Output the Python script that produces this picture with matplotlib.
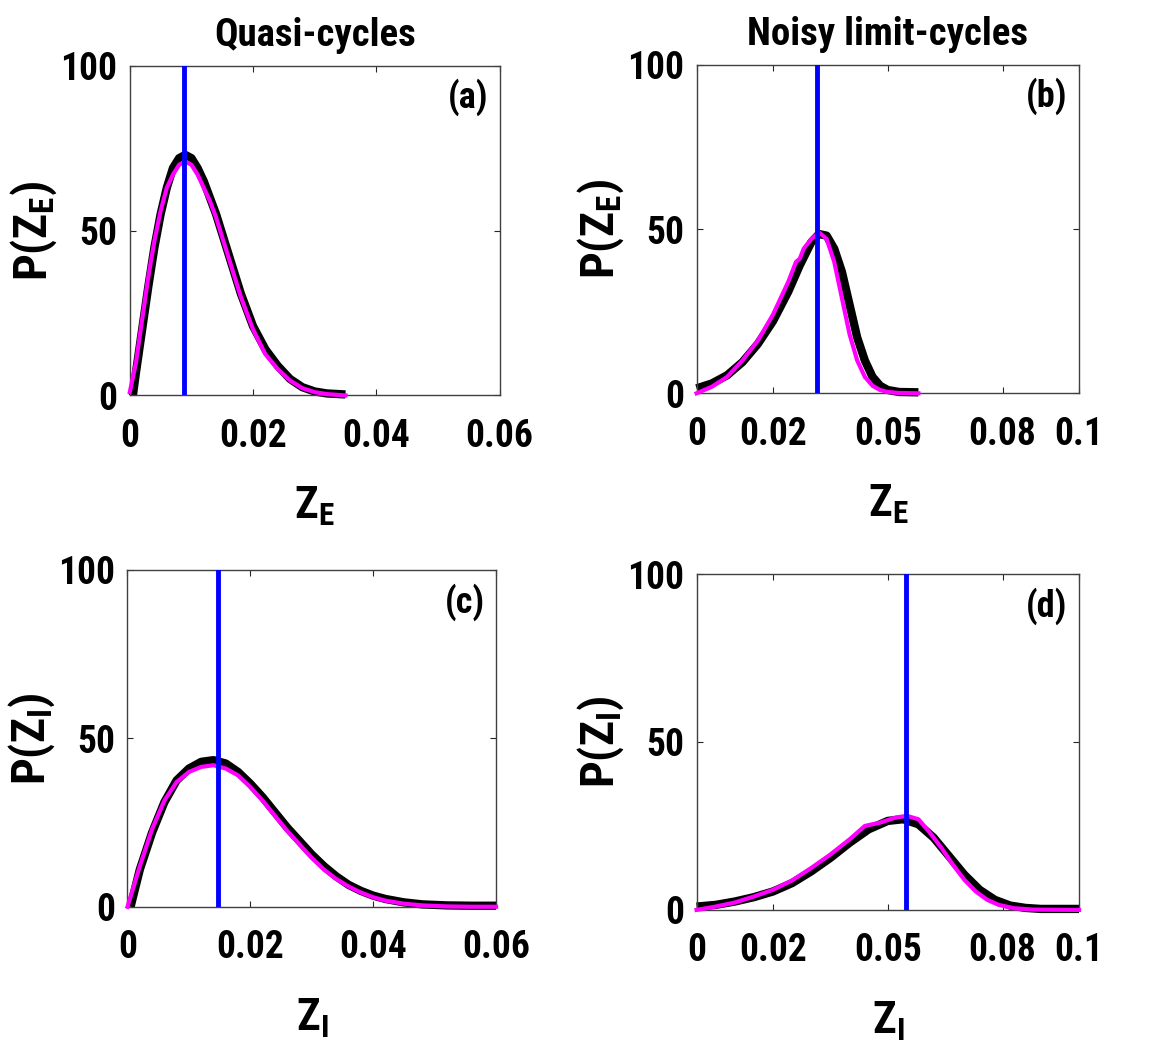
import numpy as np
import matplotlib
matplotlib.use("Agg")
import matplotlib.pyplot as plt
from matplotlib import font_manager as fm

# pick the first condensed bold family that is actually installed
main_font = 'Liberation Sans'
for cand in ['Roboto Condensed', 'Archivo Narrow', 'PT Sans Narrow', 'Asap Condensed']:
    try:
        fm.findfont(fm.FontProperties(family=cand, weight='bold'), fallback_to_default=False)
        main_font = cand
        break
    except ValueError:
        pass

plt.rcParams['font.family'] = [main_font, 'DejaVu Sans']
plt.rcParams['font.weight'] = 'bold'
plt.rcParams['mathtext.fontset'] = 'custom'
plt.rcParams['mathtext.rm'] = main_font + ':bold'
plt.rcParams['mathtext.it'] = main_font + ':bold'
plt.rcParams['mathtext.bf'] = main_font + ':bold'

# (a) quasi-cycles, Z_E
xa_theory = [0.0005, 0.001, 0.002, 0.003, 0.004, 0.005, 0.006, 0.007, 0.008, 0.009, 0.010, 0.011, 0.012, 0.013,
             0.014, 0.015, 0.016, 0.017, 0.018, 0.019, 0.020, 0.022, 0.024, 0.026, 0.028, 0.030, 0.032, 0.035]
ya_theory = [0, 7, 20, 33, 45, 55, 63, 69, 72, 73, 72, 69, 65, 60,
             55, 49, 43, 37, 31, 26, 21, 14, 9, 5, 2.5, 1.2, 0.6, 0.3]
xa_sim = [0, 0.001, 0.002, 0.003, 0.004, 0.005, 0.006, 0.007, 0.008, 0.009, 0.010, 0.011, 0.012, 0.013,
          0.014, 0.015, 0.016, 0.017, 0.018, 0.019, 0.020, 0.022, 0.024, 0.026, 0.028, 0.030, 0.032, 0.035]
ya_sim = [1, 10, 23, 36, 47, 56, 63, 67, 70, 71, 70, 67, 63, 59,
          54, 48, 42, 36, 30, 25, 20, 12.5, 8, 4.5, 2.2, 1, 0.4, 0]
peak_a = 0.0088

# (b) noisy limit-cycles, Z_E
xb_theory = [0, 0.004, 0.008, 0.012, 0.016, 0.020, 0.024, 0.027, 0.030, 0.032, 0.034, 0.036, 0.038, 0.040,
             0.042, 0.044, 0.046, 0.048, 0.050, 0.053, 0.058]
yb_theory = [1.5, 3, 5.5, 9.5, 15, 22, 31, 39, 46, 48.5, 48, 44, 37, 27,
             17, 10, 5, 2.3, 1, 0.4, 0.3]
xb_sim = [0, 0.004, 0.008, 0.012, 0.016, 0.020, 0.024, 0.026, 0.027, 0.028, 0.030, 0.032, 0.034, 0.036,
          0.038, 0.040, 0.042, 0.044, 0.046, 0.048, 0.050, 0.053, 0.058]
yb_sim = [0, 2, 5, 10, 16, 24, 34, 40, 41, 44, 47, 49, 47, 40,
          29, 18, 10, 5, 2.3, 1, 0.4, 0.1, 0]
peak_b = 0.0315

# (c) quasi-cycles, Z_I
xc_theory = [0.0005, 0.002, 0.004, 0.006, 0.008, 0.010, 0.012, 0.014, 0.016, 0.018, 0.020, 0.022, 0.024,
             0.026, 0.028, 0.030, 0.032, 0.034, 0.036, 0.038, 0.040, 0.042, 0.045, 0.048, 0.052, 0.056, 0.060]
yc_theory = [0, 11, 22, 31, 37.5, 41, 43, 43.5, 42.5, 40, 36.5, 32.5, 28,
             23.5, 19.5, 15.5, 12, 9, 6.5, 4.7, 3.3, 2.3, 1.3, 0.7, 0.4, 0.3, 0.3]
xc_sim = [0, 0.002, 0.004, 0.006, 0.008, 0.010, 0.012, 0.014, 0.016, 0.018, 0.020, 0.022, 0.024,
          0.026, 0.028, 0.030, 0.032, 0.034, 0.036, 0.038, 0.040, 0.042, 0.045, 0.048, 0.052, 0.056, 0.060]
yc_sim = [0, 12, 23, 31.5, 37, 40, 41.5, 42, 41, 39, 35.5, 31.5, 27,
          22.5, 18.5, 14.5, 11, 8.2, 6, 4.2, 2.8, 1.8, 0.9, 0.4, 0.1, 0, 0]
peak_c = 0.0148

# (d) noisy limit-cycles, Z_I
xd_theory = [0, 0.005, 0.010, 0.015, 0.020, 0.025, 0.030, 0.035, 0.040, 0.045, 0.050, 0.054, 0.058,
             0.062, 0.066, 0.070, 0.074, 0.078, 0.082, 0.086, 0.090, 0.100]
yd_theory = [1, 1.5, 2.5, 3.8, 5.5, 8, 11.5, 15.5, 20, 24, 26.5, 27, 25.5,
             21.5, 16, 10.5, 6, 3, 1.3, 0.6, 0.3, 0.3]
xd_sim = [0, 0.005, 0.010, 0.015, 0.020, 0.025, 0.030, 0.035, 0.040, 0.044, 0.048, 0.052, 0.055,
          0.058, 0.061, 0.064, 0.067, 0.070, 0.073, 0.076, 0.079, 0.083, 0.088, 0.100]
yd_sim = [0, 1, 2.2, 4, 6, 8.8, 12.5, 16.5, 21, 25, 26, 27.5, 28,
          27, 23, 18.5, 13.5, 9, 5.5, 3, 1.5, 0.5, 0.1, 0]
peak_d = 0.0547

xticks_q = [0, 0.02, 0.04, 0.06]
xlabels_q = ['0', '0.02', '0.04', '0.06']
xticks_n = [0, 0.02, 0.05, 0.08, 0.1]
xlabels_n = ['0', '0.02', '0.05', '0.08', '0.1']

panels = [
    ([0.112, 0.628, 0.319, 0.310], xa_theory, ya_theory, xa_sim, ya_sim, peak_a, 0.06, xticks_q, xlabels_q,
     'P(Z$_{\\mathrm{E}}$)', 'Z$_{\\mathrm{E}}$', '(a)', 'Quasi-cycles'),
    ([0.601, 0.630, 0.330, 0.309], xb_theory, yb_theory, xb_sim, yb_sim, peak_b, 0.1, xticks_n, xlabels_n,
     'P(Z$_{\\mathrm{E}}$)', 'Z$_{\\mathrm{E}}$', '(b)', 'Noisy limit-cycles'),
    ([0.110, 0.147, 0.318, 0.317], xc_theory, yc_theory, xc_sim, yc_sim, peak_c, 0.06, xticks_q, xlabels_q,
     'P(Z$_{\\mathrm{I}}$)', 'Z$_{\\mathrm{I}}$', '(c)', None),
    ([0.601, 0.144, 0.330, 0.316], xd_theory, yd_theory, xd_sim, yd_sim, peak_d, 0.1, xticks_n, xlabels_n,
     'P(Z$_{\\mathrm{I}}$)', 'Z$_{\\mathrm{I}}$', '(d)', None),
]

fig = plt.figure(figsize=(11.59, 10.63), dpi=100)

for rect, xt, yt, xs, ys, pk, xmax, xtk, xlb, ylab, xlab, tag, title in panels:
    ax = fig.add_axes(rect)
    ax.plot(xt, yt, color='black', lw=6, solid_capstyle='butt', solid_joinstyle='round',
            clip_on=False, zorder=2)
    ax.plot(xs, ys, color='#ff00ff', lw=3, solid_joinstyle='round', clip_on=False, zorder=3)
    ax.plot([pk, pk], [0, 100], color='#0000ff', lw=3.5, zorder=4)
    ax.set_xlim(0, xmax)
    ax.set_ylim(0, 100)
    ax.set_xticks(xtk)
    ax.set_xticklabels(xlb)
    ax.set_yticks([0, 50, 100])
    ax.tick_params(direction='in', length=4, width=0.8, top=True, right=True,
                   labelsize=27, colors='#262626')
    ax.tick_params(axis='x', pad=16)
    ax.tick_params(axis='y', pad=9)
    for lab in ax.get_xticklabels() + ax.get_yticklabels():
        lab.set_fontweight('bold')
        lab.set_color('black')
    for sp in ax.spines.values():
        sp.set_linewidth(1.0)
        sp.set_color('#404040')
    ax.set_ylabel(ylab, fontsize=34, fontweight='bold', labelpad=1)
    ax.set_xlabel(xlab, fontsize=32, fontweight='bold', labelpad=22)
    ax.text(0.915, 0.905, tag, transform=ax.transAxes, ha='center', va='center',
            fontsize=26, fontweight='bold')
    if title:
        ax.set_title(title, fontsize=28, fontweight='bold', pad=14)

fig.savefig('out.png', dpi=100)
